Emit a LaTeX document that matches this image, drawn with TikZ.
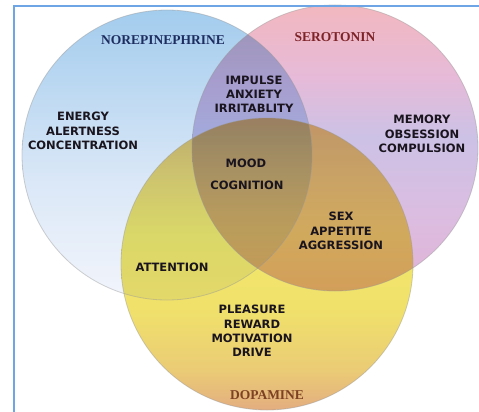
\documentclass[tikz,border=0pt]{standalone}
\usepackage{fontspec}
\setmainfont{Liberation Serif}
\newfontfamily\lblfont{DejaVu Sans}
\definecolor{frameblue}{RGB}{110,165,228}
\definecolor{navy}{RGB}{30,45,95}
\definecolor{darkred}{RGB}{125,35,40}
\definecolor{brownlbl}{RGB}{125,65,35}
\definecolor{txt}{RGB}{25,20,30}
\pgfdeclareverticalshading{blueshade}{100bp}{
  rgb(0bp)=(0.95,0.96,0.985); rgb(25bp)=(0.95,0.96,0.985);
  rgb(45bp)=(0.86,0.91,0.97); rgb(75bp)=(0.64,0.80,0.93); rgb(100bp)=(0.64,0.80,0.93)}
\pgfdeclareverticalshading{pinkshade}{100bp}{
  rgb(0bp)=(0.88,0.70,0.84); rgb(25bp)=(0.88,0.70,0.84);
  rgb(38bp)=(0.86,0.74,0.88); rgb(52bp)=(0.80,0.76,0.90);
  rgb(62bp)=(0.90,0.73,0.85); rgb(75bp)=(0.95,0.72,0.75); rgb(100bp)=(0.95,0.72,0.75)}
\pgfdeclareverticalshading{yelshade}{100bp}{
  rgb(0bp)=(0.89,0.68,0.50); rgb(25bp)=(0.89,0.68,0.50);
  rgb(32bp)=(0.92,0.80,0.46); rgb(42bp)=(0.94,0.88,0.42);
  rgb(55bp)=(0.95,0.91,0.42); rgb(65bp)=(0.95,0.85,0.45);
  rgb(75bp)=(0.95,0.77,0.45); rgb(100bp)=(0.95,0.77,0.45)}
\tikzset{
  lbl/.style={font=\lblfont\bfseries\fontsize{11.5}{14.2}\selectfont, text=txt, align=center, inner sep=0pt},
  head/.style={font=\bfseries\fontsize{13.5}{14}\selectfont, inner sep=0pt},
  rim/.style={draw=black!40, draw opacity=0.45, line width=0.8pt}
}
\begin{document}
\begin{tikzpicture}[x=1pt,y=-1pt]
\useasboundingbox (0,0) rectangle (479,412);
\fill[white] (0,0) rectangle (479,412);
\begin{scope}[blend group=multiply]
  \shade[shading=blueshade] (167,155) circle (145);
  \shade[shading=pinkshade] (335,148) circle (143);
  \shade[shading=yelshade] (267,264) circle (146);
\end{scope}
\draw[rim] (167,155) circle (145);
\draw[rim] (335,148) circle (143);
\draw[rim] (267,264) circle (146);
\draw[frameblue, line width=2pt] (14,412) -- (14,6.5) -- (479,6.5);

\node[head, text=navy] (nor) at (163,40) {NOREPINEPHRINE};
\node[head, text=darkred] (ser) at (335,37) {SEROTONIN};
\node[head, text=brownlbl] (dop) at (267,395) {DOPAMINE};

\node[lbl] (imp) at (254,94) {IMPULSE\\ANXIETY\\IRRITABLITY};
\node[lbl] (ene) at (83,131) {ENERGY\\ALERTNESS\\CONCENTRATION};
\node[lbl] (mem) at (422,134) {MEMORY\\OBSESSION\\COMPULSION};
\node[lbl] (mood) at (246,163) {MOOD};
\node[lbl] (cog) at (247,185) {COGNITION};
\node[lbl] (sex) at (341,231) {SEX\\APPETITE\\AGGRESSION};
\node[lbl] (att) at (172,267) {ATTENTION};
\node[lbl] (ple) at (252,331) {PLEASURE\\REWARD\\MOTIVATION\\DRIVE};
\end{tikzpicture}
\end{document}
